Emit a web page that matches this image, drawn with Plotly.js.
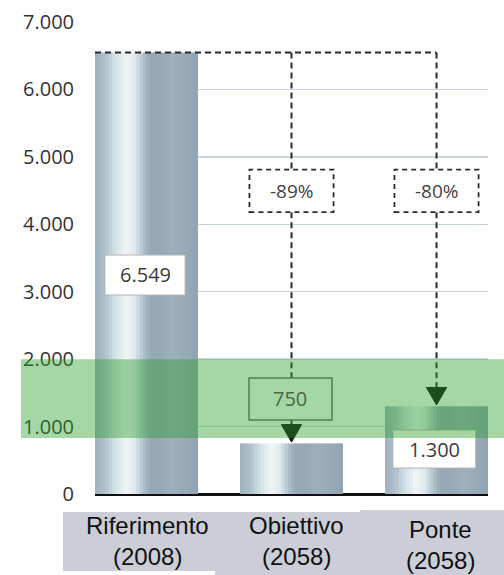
<!DOCTYPE html>
<html>
<head>
<meta charset="utf-8">
<script src="https://cdn.plot.ly/plotly-3.0.1.min.js"></script>
<style>
  html, body { margin: 0; padding: 0; background: #ffffff; }
  #chart { width: 504px; height: 575px; }
</style>
</head>
<body>
<div id="chart"></div>
<script>
// ---------------- data ----------------
const catLine1 = ['Riferimento', 'Obiettivo', 'Ponte'];
const catLine2 = ['(2008)', '(2058)', '(2058)'];
const values = [6549, 750, 1300];
const yTickVals = [0, 1000, 2000, 3000, 4000, 5000, 6000, 7000];
const yTickText = ['0', '1.000', '2.000', '3.000', '4.000', '5.000', '6.000', '7.000'];
const bandRange = [830, 2000];

// ---------------- helpers ----------------
function fmt(v) {
  return String(Math.round(v)).replace(/\B(?=(\d{3})+(?!\d))/g, '.');
}
const W = 504, H = 575;
const M = { l: 95, r: 16, t: 22, b: 81 };
const PW = W - M.l - M.r, PH = H - M.t - M.b;
const xr = [-0.355, 2.355];
const yr = [0, 7000];
const px2paperX = px => (px - M.l) / PW;
const px2paperY = py => (H - M.b - py) / PH;

// metallic gradient (style)
const stops = [
  [0.00, [158, 176, 189]],
  [0.10, [176, 193, 203]],
  [0.20, [214, 225, 232]],
  [0.30, [240, 245, 248]],
  [0.38, [226, 234, 239]],
  [0.46, [182, 198, 208]],
  [0.53, [151, 169, 182]],
  [0.62, [149, 168, 181]],
  [0.76, [157, 175, 187]],
  [0.90, [151, 169, 181]],
  [1.00, [145, 163, 176]]
];
function gradCol(t) {
  for (let i = 0; i < stops.length - 1; i++) {
    const a = stops[i], b = stops[i + 1];
    if (t >= a[0] && t <= b[0]) {
      const f = (t - a[0]) / (b[0] - a[0]);
      const c = a[1].map((v, k) => Math.round(v + (b[1][k] - v) * f));
      return 'rgb(' + c.join(',') + ')';
    }
  }
  return 'rgb(145,163,176)';
}

// ---------------- bars as gradient strips ----------------
const barW = 0.71;
const N = 30;
const sw = barW / N;
const xs = values.map((v, i) => i);
const traces = [];
for (let i = 0; i < N; i++) {
  const t = (i + 0.5) / N;
  traces.push({
    type: 'bar',
    x: xs,
    y: values,
    width: (i < N - 1) ? sw * 1.25 : sw,
    offset: -barW / 2 + i * sw,
    marker: { color: gradCol(t), line: { width: 0 } },
    hoverinfo: 'skip',
    showlegend: false
  });
}

// ---------------- decorations ----------------
const dashCol = '#2b2b2b';
const shapes = [];
function vseg(x, y0, y1) {
  shapes.push({ type: 'line', xref: 'x', yref: 'y', x0: x, x1: x, y0: y0, y1: y1,
    line: { color: dashCol, width: 2, dash: '6px,4px' }, layer: 'above' });
}
// horizontal dashed reference line from the top of the first bar
shapes.push({ type: 'line', xref: 'x', yref: 'y', x0: -barW / 2, x1: 2, y0: values[0], y1: values[0],
  line: { color: dashCol, width: 2, dash: '6px,4px' }, layer: 'above' });

const pctBoxY = [4180, 4810];
const pctHalf = 0.29;
// Obiettivo
vseg(1, values[0], pctBoxY[1]);
const box750 = [1097, 1720];
vseg(1, pctBoxY[0], box750[1]);
const tipOff = 20, triH = 260, triHalf = 0.07;
vseg(1, box750[0], values[1] + tipOff + triH);
// Ponte
vseg(2, values[0], pctBoxY[1]);
vseg(2, pctBoxY[0], values[2] + tipOff + triH);

// percent boxes
[1, 2].forEach(i => {
  shapes.push({ type: 'rect', xref: 'x', yref: 'y', x0: i - pctHalf, x1: i + pctHalf,
    y0: pctBoxY[0], y1: pctBoxY[1], fillcolor: 'rgba(255,255,255,1)',
    line: { color: dashCol, width: 1.8, dash: '5px,4px' }, layer: 'above' });
});
// 750 box (solid)
shapes.push({ type: 'rect', xref: 'x', yref: 'y', x0: 0.707, x1: 1.279, y0: box750[0], y1: box750[1],
  fillcolor: 'rgba(0,0,0,0)', line: { color: '#6a6a6a', width: 1.5 }, layer: 'above' });

// arrow heads
[1, 2].forEach(i => {
  const tip = values[i] + tipOff, top = tip + triH;
  shapes.push({ type: 'path', xref: 'x', yref: 'y',
    path: `M ${i - triHalf} ${top} L ${i + triHalf} ${top} L ${i} ${tip} Z`,
    fillcolor: '#141414', line: { color: '#141414', width: 1 }, layer: 'above' });
});

// white value boxes
shapes.push({ type: 'rect', xref: 'x', yref: 'y', x0: -0.286, x1: 0.266, y0: 2951, y1: 3544,
  fillcolor: '#ffffff', line: { color: '#b5b5b5', width: 1 }, layer: 'above' });
shapes.push({ type: 'rect', xref: 'x', yref: 'y', x0: 1.70, x1: 2.27, y0: 385, y1: 948,
  fillcolor: '#ffffff', line: { color: '#b5b5b5', width: 1 }, layer: 'above' });

// green band overlay
shapes.push({ type: 'rect', xref: 'paper', yref: 'y', x0: px2paperX(21), x1: px2paperX(504),
  y0: bandRange[0], y1: bandRange[1], fillcolor: 'rgba(40,160,40,0.42)',
  line: { width: 0 }, layer: 'above' });

// grey category label boxes
const greyBoxes = [[63, 215, 512, 571], [215, 360, 512, 575], [360, 504, 510, 575]];
greyBoxes.forEach(b => {
  shapes.push({ type: 'rect', xref: 'paper', yref: 'paper',
    x0: px2paperX(b[0]), x1: px2paperX(b[1]), y0: px2paperY(b[3]), y1: px2paperY(b[2]),
    fillcolor: '#cbced6', line: { width: 0 }, layer: 'above' });
});

// ---------------- annotations ----------------
const annotations = [];
const numFont = { family: 'Open Sans', size: 20, color: '#3c3c3c' };
// value labels
annotations.push({ xref: 'x', yref: 'y', x: -0.01, y: 3248, text: fmt(values[0]), showarrow: false,
  font: numFont, xanchor: 'center', yanchor: 'middle' });
annotations.push({ xref: 'x', yref: 'y', x: 1.985, y: 666, text: fmt(values[2]), showarrow: false,
  font: numFont, xanchor: 'center', yanchor: 'middle' });
annotations.push({ xref: 'x', yref: 'y', x: 0.993, y: 1409, text: fmt(values[1]), showarrow: false,
  font: { family: 'Open Sans', size: 20, color: '#4a674a' }, xanchor: 'center', yanchor: 'middle' });
// percent labels
[1, 2].forEach(i => {
  const pct = Math.round((values[i] - values[0]) / values[0] * 100);
  annotations.push({ xref: 'x', yref: 'y', x: i, y: 4494, text: pct + '%', showarrow: false,
    font: { family: 'Open Sans', size: 19, color: '#444444' }, xanchor: 'center', yanchor: 'middle' });
});
// category labels
const catX = [147, 296, 440];
const catY1 = [525, 525, 529];
const catY2 = [556, 556, 560];
const catFont = { family: 'Liberation Sans', size: 24, color: '#111111', weight: 400 };
catLine1.forEach((t, i) => {
  annotations.push({ xref: 'paper', yref: 'paper', x: px2paperX(catX[i]), y: px2paperY(catY1[i]),
    text: t, showarrow: false, font: catFont, xanchor: 'center', yanchor: 'middle' });
  annotations.push({ xref: 'paper', yref: 'paper', x: px2paperX(catX[i]), y: px2paperY(catY2[i]),
    text: catLine2[i], showarrow: false, font: catFont, xanchor: 'center', yanchor: 'middle' });
});

const layout = {
  width: W, height: H,
  margin: M,
  paper_bgcolor: '#ffffff',
  plot_bgcolor: '#ffffff',
  barmode: 'overlay',
  showlegend: false,
  xaxis: { range: xr, showgrid: false, zeroline: false, showticklabels: false, ticks: '', showline: false, fixedrange: true },
  yaxis: {
    range: yr, tickvals: yTickVals, ticktext: yTickText,
    showgrid: true, gridcolor: '#c8d5de', gridwidth: 1.5,
    zeroline: true, zerolinecolor: '#111111', zerolinewidth: 3,
    ticks: '', ticklabelstandoff: 20,
    tickfont: { family: 'Open Sans', size: 20, color: '#333333' },
    showline: false, fixedrange: true
  },
  shapes: shapes,
  annotations: annotations
};

Plotly.newPlot('chart', traces, layout, { displayModeBar: false, staticPlot: true });
</script>
</body>
</html>
